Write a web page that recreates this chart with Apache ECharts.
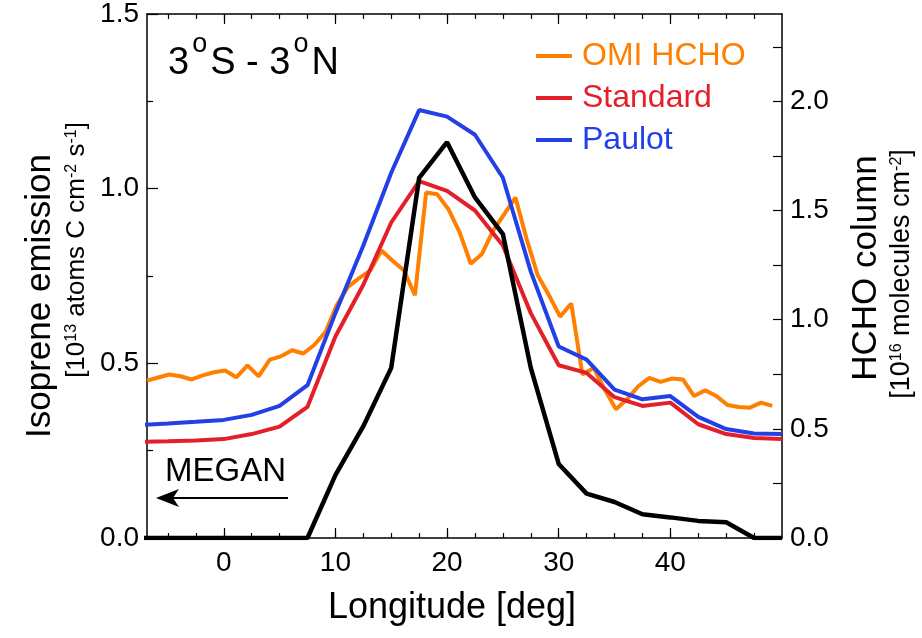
<!DOCTYPE html>
<html><head><meta charset="utf-8">
<script src="https://cdn.jsdelivr.net/npm/echarts@6/dist/echarts.min.js"></script>
<style>html,body{margin:0;padding:0;background:#fff}#c{width:922px;height:638px}</style>
</head><body><div id="c"></div>
<script>
// ---- data ----
const lonModel = [-7.5, -5, -2.5, 0, 2.5, 5, 7.5, 10, 12.5, 15, 17.5, 20, 22.5, 25, 27.5, 30, 32.5, 35, 37.5, 40, 42.5, 45, 47.5, 50];
const megan    = [0, 0, 0, 0, 0, 0, 0, 0.18, 0.32, 0.487, 1.031, 1.133, 0.975, 0.87, 0.487, 0.212, 0.127, 0.103, 0.068, 0.059, 0.049, 0.045, 0, 0];
const standard = [0.44, 0.443, 0.447, 0.453, 0.476, 0.51, 0.601, 0.923, 1.16, 1.445, 1.635, 1.59, 1.5, 1.34, 1.03, 0.791, 0.756, 0.645, 0.605, 0.62, 0.521, 0.476, 0.458, 0.453];
const paulot   = [0.518, 0.524, 0.532, 0.541, 0.564, 0.605, 0.7, 1.03, 1.34, 1.673, 1.96, 1.93, 1.847, 1.65, 1.22, 0.877, 0.817, 0.68, 0.635, 0.65, 0.555, 0.499, 0.479, 0.476];
const lonOMI = [-6.875, -5.875, -4.875, -3.875, -2.875, -1.875, -0.875, 0.125, 1.125, 2.125, 3.125, 4.125, 5.125, 6.125, 7.125, 8.125, 9.125,
  10.125, 11.125, 12.125, 13.125, 14.125, 15.125, 16.125, 17.125, 18.125, 19.125, 20.125, 21.125, 22.125, 23.125, 24.125, 25.125, 26.125,
  27.125, 28.125, 29.125, 30.125, 31.125, 32.125, 33.125, 34.125, 35.125, 36.125, 37.125, 38.125, 39.125, 40.125, 41.125, 42.125, 43.125,
  44.125, 45.125, 46.125, 47.125, 48.125, 49.125];
const omi = [0.721, 0.735, 0.749, 0.741, 0.726, 0.745, 0.759, 0.767, 0.736, 0.791, 0.74, 0.817, 0.832, 0.86, 0.845, 0.885, 0.945,
  1.067, 1.15, 1.19, 1.225, 1.317, 1.27, 1.226, 1.112, 1.582, 1.574, 1.506, 1.4, 1.256, 1.301, 1.408, 1.483, 1.559,
  1.37, 1.203, 1.112, 1.014, 1.074, 0.749, 0.779, 0.68, 0.59, 0.635, 0.695, 0.733, 0.715, 0.73, 0.726, 0.65, 0.676,
  0.65, 0.609, 0.6, 0.597, 0.62, 0.605];
const xLabels = [0, 10, 20, 30, 40];
const xMinorTicks = [-5, -2.5, 0, 2.5, 5, 7.5, 10, 12.5, 15, 17.5, 20, 22.5, 25, 27.5, 30, 32.5, 35, 37.5, 40, 42.5, 45, 47.5];
const rightLabels = [0, 0.5, 1.0, 1.5, 2.0];
const rightTicks = [0, 0.25, 0.5, 0.75, 1.0, 1.25, 1.5, 1.75, 2.0, 2.25];
const seriesNames = ['OMI HCHO', 'Standard', 'Paulot', 'MEGAN'];
const colors = {omi: '#ff8000', standard: '#e3202a', paulot: '#2340e6', megan: '#000000'};

const FF = '"Liberation Sans", Arial, Helvetica, sans-serif';
const zip = (xs, ys) => xs.map((x, i) => [x, ys[i]]);
const XMIN = -6.875, XMAX = 50;

function xAx(pos, ticks, len, line, labels) {
  return {
    type: 'value', min: XMIN, max: XMAX, position: pos,
    axisLine: {show: line, onZero: false, lineStyle: {color: '#000', width: 1.5}},
    axisTick: {show: true, inside: true, length: len, customValues: ticks, lineStyle: {color: '#000', width: 1.2}},
    axisLabel: labels ? {show: true, customValues: labels, fontSize: 28, color: '#000', fontFamily: FF, margin: 11} : {show: false},
    splitLine: {show: false}
  };
}

const titleRich = {
  n: {fontSize: 38, lineHeight: 52, fontFamily: FF, verticalAlign: 'bottom'},
  sup: {fontSize: 27, fontFamily: FF, verticalAlign: 'top', padding: [0, 3, 0, 3]}
};
const supSmall = {fontSize: 16, lineHeight: 10, fontFamily: FF, verticalAlign: 'top'};

const chart = echarts.init(document.getElementById('c'), null, {renderer: 'canvas'});
chart.setOption({
  animation: false,
  backgroundColor: '#fff',
  grid: {left: 147, right: 140, top: 10, bottom: 100, containLabel: false},
  xAxis: [
    xAx('bottom', xMinorTicks, 5, true, xLabels),
    xAx('bottom', xLabels, 10, false, null),
    xAx('top', xMinorTicks, 5, true, null),
    xAx('top', xLabels, 10, false, null)
  ],
  yAxis: [
    {type: 'value', min: 0, max: 1.5, interval: 0.5, position: 'left',
     axisLine: {show: true, onZero: false, lineStyle: {color: '#000', width: 1.5}},
     axisTick: {show: true, inside: true, length: 11, lineStyle: {color: '#000', width: 1.2}},
     minorTick: {show: true, splitNumber: 2, length: 6, lineStyle: {color: '#000', width: 1.2}},
     axisLabel: {fontSize: 28, color: '#000', fontFamily: FF, margin: 8, formatter: v => v.toFixed(1)},
     splitLine: {show: false}},
    {type: 'value', min: 0, max: 2.4, position: 'right',
     axisLine: {show: true, onZero: false, lineStyle: {color: '#000', width: 1.5}},
     axisTick: {show: true, inside: true, length: 9, customValues: rightTicks, lineStyle: {color: '#000', width: 1.2}},
     axisLabel: {customValues: rightLabels, fontSize: 28, color: '#000', fontFamily: FF, margin: 8, formatter: v => v.toFixed(1)},
     splitLine: {show: false}}
  ],
  legend: {
    data: [
      {name: seriesNames[0], textStyle: {color: colors.omi}},
      {name: seriesNames[1], textStyle: {color: colors.standard}},
      {name: seriesNames[2], textStyle: {color: colors.paulot}}
    ],
    orient: 'vertical', left: 536, top: 40, padding: 0,
    icon: 'rect', itemWidth: 36, itemHeight: 4, itemGap: 10,
    textStyle: {fontSize: 32, fontFamily: FF, padding: [0, 0, 0, 5]},
    selectedMode: false
  },
  series: [
    {name: seriesNames[0], type: 'line', xAxisIndex: 0, yAxisIndex: 1, data: zip(lonOMI, omi), symbol: 'none',
     lineStyle: {color: colors.omi, width: 4}, itemStyle: {color: colors.omi}, z: 2},
    {name: seriesNames[2], type: 'line', xAxisIndex: 0, yAxisIndex: 1, data: zip(lonModel, paulot), symbol: 'none',
     lineStyle: {color: colors.paulot, width: 4}, itemStyle: {color: colors.paulot}, z: 3},
    {name: seriesNames[1], type: 'line', xAxisIndex: 0, yAxisIndex: 1, data: zip(lonModel, standard), symbol: 'none',
     lineStyle: {color: colors.standard, width: 4}, itemStyle: {color: colors.standard}, z: 4},
    {name: seriesNames[3], type: 'line', xAxisIndex: 0, yAxisIndex: 0, data: zip(lonModel, megan), symbol: 'none',
     lineStyle: {color: colors.megan, width: 4.5}, itemStyle: {color: colors.megan}, z: 5}
  ],
  graphic: [
    {type: 'text', left: 168, top: 31, z: 10,
     style: {text: '{n|3}{sup|o}{n|S - 3}{sup|o}{n|N}', font: '38px ' + FF, fill: '#000', rich: titleRich}},
    {type: 'text', left: 165, top: 455, z: 10,
     style: {text: 'MEGAN', font: '33px ' + FF, fill: '#000'}},
    {type: 'line', z: 10, shape: {x1: 170, y1: 498, x2: 288, y2: 498}, style: {stroke: '#000', lineWidth: 2}},
    {type: 'polygon', z: 10, shape: {points: [[156, 498], [179, 489], [173, 498], [179, 507]]}, style: {fill: '#000'}},
    {type: 'text', x: 452, y: 608, z: 10,
     style: {text: 'Longitude [deg]', font: '36px ' + FF, fill: '#000', align: 'center', verticalAlign: 'middle'}},
    {type: 'text', x: 40, y: 296, rotation: Math.PI / 2, z: 10,
     style: {text: 'Isoprene emission', font: '35px ' + FF, fill: '#000', align: 'center', verticalAlign: 'middle'}},
    {type: 'text', x: 77, y: 250, rotation: Math.PI / 2, z: 10,
     style: {text: '[10{sup|13} atoms C cm{sup|-2} s{sup|-1}]', font: '26px ' + FF, fill: '#000', align: 'center', verticalAlign: 'middle',
       rich: {sup: supSmall}}},
    {type: 'text', x: 866, y: 268, rotation: Math.PI / 2, z: 10,
     style: {text: 'HCHO column', font: '35px ' + FF, fill: '#000', align: 'center', verticalAlign: 'middle'}},
    {type: 'text', x: 902, y: 274, rotation: Math.PI / 2, z: 10,
     style: {text: '[10{sup|16} molecules cm{sup|-2}]', font: '27px ' + FF, fill: '#000', align: 'center', verticalAlign: 'middle',
       rich: {sup: supSmall}}}
  ]
});
</script>
</body></html>
